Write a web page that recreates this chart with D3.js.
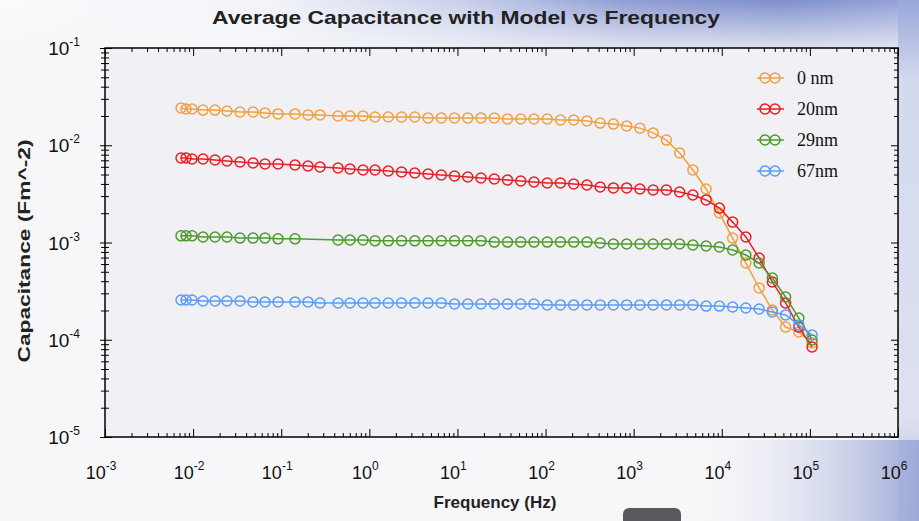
<!DOCTYPE html>
<html>
<head>
<meta charset="utf-8">
<script src="https://cdn.jsdelivr.net/npm/d3@7"></script>
<style>
  body { margin: 0; background: #f7f7f9; }
  svg { display: block; }
</style>
</head>
<body>
<div id="chart"></div>
<script>
// Frequency (Hz) of each measured point
const freqs = [0.00729, 0.00831, 0.00972, 0.01296, 0.01772, 0.02425, 0.03406, 0.04785, 0.06548, 0.09199,
  0.1434, 0.2014, 0.2757, 0.4413, 0.6038, 0.8483, 1.16, 1.64, 2.32, 3.28,
  4.64, 6.56, 9.27, 13.1, 18.5, 26.2, 37.0, 52.3, 73.9, 104.5,
  147.6, 208.7, 295, 417, 589, 833, 1177, 1664, 2353, 3325,
  4699, 6645, 9394, 13280, 18770, 26530, 37500, 53000, 74930, 105900];

const seriesNames = ["0 nm", "20nm", "29nm", "67nm"];

// Capacitance (F m^-2)
const cap0 = [0.0242, 0.0236, 0.0236, 0.0230, 0.0230, 0.0225, 0.0220, 0.0220, 0.0215, 0.0210,
  0.0210, 0.0205, 0.0205, 0.0200, 0.0200, 0.0200, 0.0195, 0.0195, 0.0195, 0.0195,
  0.0191, 0.0191, 0.0191, 0.0191, 0.0191, 0.0191, 0.0186, 0.0186, 0.0186, 0.0186,
  0.0182, 0.0182, 0.0178, 0.0169, 0.0165, 0.0158, 0.0150, 0.0134, 0.0113, 0.00833,
  0.00557, 0.00355, 0.00201, 0.00111, 0.000615, 0.000341, 0.000202, 0.000135, 0.000120, 0.0000926];
const cap20 = [0.00740, 0.00740, 0.00722, 0.00722, 0.00705, 0.00689, 0.00673, 0.00657, 0.00642, 0.00642,
  0.00627, 0.00612, 0.00598, 0.00584, 0.00570, 0.00557, 0.00557, 0.00544, 0.00531, 0.00518,
  0.00506, 0.00495, 0.00483, 0.00472, 0.00461, 0.00450, 0.00439, 0.00429, 0.00419, 0.00409,
  0.00409, 0.00400, 0.00390, 0.00372, 0.00364, 0.00364, 0.00355, 0.00347, 0.00347, 0.00331,
  0.00308, 0.00274, 0.00226, 0.00162, 0.00114, 0.000693, 0.000393, 0.000239, 0.000135, 0.0000842];
const cap29 = [0.00117, 0.00117, 0.00117, 0.00114, 0.00114, 0.00114, 0.00111, 0.00111, 0.00111, 0.00109,
  0.00109, null, null, 0.00106, 0.00106, 0.00106, 0.00104, 0.00104, 0.00104, 0.00104,
  0.00104, 0.00104, 0.00104, 0.00104, 0.00104, 0.00101, 0.00101, 0.00101, 0.00101, 0.00101,
  0.00101, 0.00101, 0.00101, 0.000988, 0.000965, 0.000965, 0.000965, 0.000965, 0.000965, 0.000965,
  0.000942, 0.000920, 0.000899, 0.000837, 0.000744, 0.000615, 0.000432, 0.000275, 0.000167, 0.0000994];
const cap67 = [0.000256, 0.000256, 0.000256, 0.000250, 0.000250, 0.000250, 0.000250, 0.000245, 0.000245, 0.000245,
  0.000245, 0.000245, 0.000239, 0.000239, 0.000239, 0.000239, 0.000239, 0.000239, 0.000239, 0.000239,
  0.000239, 0.000239, 0.000233, 0.000233, 0.000233, 0.000233, 0.000233, 0.000233, 0.000233, 0.000228,
  0.000228, 0.000228, 0.000228, 0.000228, 0.000228, 0.000228, 0.000228, 0.000228, 0.000228, 0.000228,
  0.000228, 0.000222, 0.000222, 0.000217, 0.000212, 0.000207, 0.000193, 0.000180, 0.000142, 0.000112];

const xTickExps = [-3, -2, -1, 0, 1, 2, 3, 4, 5, 6];
const yTickExps = [-1, -2, -3, -4, -5];
const colors = ["#f0a040", "#ec1c22", "#4f9a2c", "#5a9cf6"];

const width = 919, height = 521;
const margin = { top: 48, right: 21, bottom: 84, left: 105 };
const innerW = width - margin.left - margin.right;
const innerH = height - margin.top - margin.bottom;

const svg = d3.select("#chart").append("svg")
  .attr("width", width).attr("height", height);

// slide-style background
const defs = svg.append("defs");
const gTop = defs.append("linearGradient").attr("id", "topband");
[[0, "#fbfbfd"], [0.3, "#f1f3f9"], [0.5, "#c8d0ea"], [0.68, "#909ed3"], [0.85, "#7e8ecc"], [1, "#95a3d8"]]
  .forEach(([o, c]) => gTop.append("stop").attr("offset", o).attr("stop-color", c));
const gFade = defs.append("linearGradient").attr("id", "fade").attr("x1", 0).attr("x2", 0).attr("y1", 0).attr("y2", 1);
gFade.append("stop").attr("offset", 0).attr("stop-color", "#f7f7f9").attr("stop-opacity", 0);
gFade.append("stop").attr("offset", 1).attr("stop-color", "#f7f7f9").attr("stop-opacity", 0.85);
const gBR = defs.append("linearGradient").attr("id", "brcorner");
gBR.append("stop").attr("offset", 0).attr("stop-color", "#f7f7f9").attr("stop-opacity", 0);
gBR.append("stop").attr("offset", 1).attr("stop-color", "#9eaad8");
const gRight = defs.append("linearGradient").attr("id", "rstrip").attr("x1", 0).attr("x2", 0).attr("y1", 0).attr("y2", 1);
[[0, "#98a6d9"], [0.15, "#d3d9ee"], [0.8, "#dde1f0"], [1, "#a9b4de"]]
  .forEach(([o, c]) => gRight.append("stop").attr("offset", o).attr("stop-color", c));

svg.append("rect").attr("width", width).attr("height", height).attr("fill", "#f7f7f9");
svg.append("rect").attr("width", width).attr("height", 52).attr("fill", "url(#topband)");
svg.append("rect").attr("width", width).attr("height", 52).attr("fill", "url(#fade)");
svg.append("rect").attr("x", 898).attr("width", 21).attr("height", height).attr("fill", "url(#rstrip)");
svg.append("rect").attr("x", 680).attr("y", 440).attr("width", 239).attr("height", 81).attr("fill", "url(#brcorner)");
svg.append("rect").attr("x", 623).attr("y", 508).attr("width", 58).attr("height", 20).attr("rx", 6).attr("fill", "#5a5a5e");

const x = d3.scaleLog().domain([1e-3, 1e6]).range([0, innerW]);
const y = d3.scaleLog().domain([1e-5, 1e-1]).range([innerH, 0]);

const g = svg.append("g").attr("transform", `translate(${margin.left},${margin.top})`);
g.append("rect").attr("width", innerW).attr("height", innerH).attr("fill", "#f1f1f5");

// minor tick values
const xMinor = [], yMinor = [];
for (let e = -3; e < 6; e++) for (let k = 2; k <= 9; k++) xMinor.push(k * Math.pow(10, e));
for (let e = -5; e < -1; e++) for (let k = 2; k <= 9; k++) yMinor.push(k * Math.pow(10, e));
const xMajor = xTickExps.map(e => Math.pow(10, e));
const yMajor = yTickExps.map(e => Math.pow(10, e));

function tickAxis(axis, tr) {
  const a = g.append("g").attr("transform", tr).call(axis);
  a.select(".domain").remove();
  a.selectAll("line").attr("stroke", "#000").attr("stroke-width", 1);
  a.selectAll("text").remove();
  return a;
}
// bottom / top ticks (inward)
tickAxis(d3.axisBottom(x).tickValues(xMinor).tickSize(-4), `translate(0,${innerH})`);
tickAxis(d3.axisBottom(x).tickValues(xMajor).tickSize(-8), `translate(0,${innerH})`);
tickAxis(d3.axisTop(x).tickValues(xMinor).tickSize(-4), "translate(0,0)");
tickAxis(d3.axisTop(x).tickValues(xMajor).tickSize(-8), "translate(0,0)");
// left ticks cross the axis, right ticks inward
tickAxis(d3.axisLeft(y).tickValues(yMinor).tickSize(4), "translate(0,0)");
tickAxis(d3.axisLeft(y).tickValues(yMinor).tickSize(-4), "translate(0,0)");
tickAxis(d3.axisLeft(y).tickValues(yMajor).tickSize(5), "translate(0,0)");
tickAxis(d3.axisLeft(y).tickValues(yMajor).tickSize(-7), "translate(0,0)");
tickAxis(d3.axisRight(y).tickValues(yMinor).tickSize(-4), `translate(${innerW},0)`);
tickAxis(d3.axisRight(y).tickValues(yMajor).tickSize(-7), `translate(${innerW},0)`);

// frame
g.append("rect").attr("width", innerW).attr("height", innerH)
  .attr("fill", "none").attr("stroke", "#000").attr("stroke-width", 1.5);

// tick labels 10^n
const font = "Arial, 'Liberation Sans', sans-serif";
xTickExps.forEach(e => {
  const t = g.append("text").attr("x", x(Math.pow(10, e)) - 4).attr("y", innerH + 42)
    .attr("text-anchor", "middle").style("font-family", font).style("fill", "#111");
  t.append("tspan").style("font-size", "18px").text("10");
  t.append("tspan").attr("dy", -9).style("font-size", "12px").text(e);
});
yTickExps.forEach(e => {
  const t = g.append("text").attr("x", -25).attr("y", y(Math.pow(10, e)) + 7)
    .attr("text-anchor", "end").style("font-family", font).style("fill", "#111");
  t.append("tspan").style("font-size", "19px").text("10");
  t.append("tspan").attr("dy", -9).style("font-size", "12px").text(e);
});

// axis titles
svg.append("text").attr("x", 466).attr("y", 24).attr("text-anchor", "middle")
  .attr("textLength", 508).attr("lengthAdjust", "spacingAndGlyphs")
  .style("font-family", font).style("font-weight", "bold").style("font-size", "19px").style("fill", "#222")
  .text("Average Capacitance with Model vs Frequency");
svg.append("text").attr("x", 495).attr("y", 508).attr("text-anchor", "middle")
  .style("font-family", font).style("font-weight", "bold").style("font-size", "17px").style("fill", "#222")
  .text("Frequency (Hz)");
svg.append("text").attr("transform", "translate(30,251) rotate(-90)").attr("text-anchor", "middle")
  .attr("textLength", 223).attr("lengthAdjust", "spacingAndGlyphs")
  .style("font-family", font).style("font-weight", "bold").style("font-size", "17px").style("fill", "#222")
  .text("Capacitance (Fm^-2)");

// series
const series = [cap0, cap20, cap29, cap67].map((vals, i) => ({
  name: seriesNames[i], color: colors[i],
  pts: freqs.map((f, j) => ({ f, c: vals[j] })).filter(d => d.c != null)
}));
const line = d3.line().x(d => x(d.f)).y(d => y(d.c));

series.forEach(s => {
  const sg = g.append("g");
  sg.append("path").datum(s.pts).attr("d", line)
    .attr("fill", "none").attr("stroke", s.color).attr("stroke-width", 1.5);
  sg.selectAll("circle").data(s.pts).join("circle")
    .attr("cx", d => x(d.f)).attr("cy", d => y(d.c)).attr("r", 5)
    .attr("fill", "none").attr("stroke", s.color).attr("stroke-width", 1.5);
});

// legend
const lg = svg.append("g").attr("transform", "translate(757,78)");
series.forEach((s, i) => {
  const row = lg.append("g").attr("transform", `translate(0,${i * 31})`);
  row.append("line").attr("x1", 0).attr("x2", 27).attr("stroke", s.color).attr("stroke-width", 1.5);
  [8, 18].forEach(cx => row.append("circle").attr("cx", cx).attr("r", 5)
    .attr("fill", "none").attr("stroke", s.color).attr("stroke-width", 1.5));
  row.append("text").attr("x", 40).attr("y", 6)
    .style("font-family", "'Liberation Serif', 'Times New Roman', serif").style("font-size", "18px").style("fill", "#111")
    .text(s.name);
});
</script>
</body>
</html>
